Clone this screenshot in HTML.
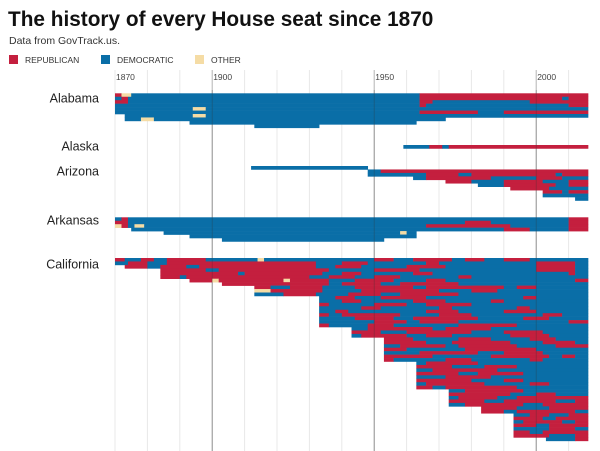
<!DOCTYPE html>
<html><head><meta charset="utf-8">
<style>
body{margin:0;background:#fff;}
svg{display:block;font-family:"Liberation Sans",Arial,sans-serif;}
</style></head>
<body>
<svg id="chart" width="600" height="451" viewBox="0 0 600 451">
  <text x="8" y="26" font-size="20.8" font-weight="bold" fill="#111">The history of every House seat since 1870</text>
  <text x="9" y="44" font-size="10.5" fill="#333">Data from GovTrack.us.</text>
  <g>
    <rect x="9" y="55" width="9" height="9" fill="#c41f3e"/>
    <text x="25" y="63" font-size="8.5" fill="#333">REPUBLICAN</text>
    <rect x="101" y="55" width="9" height="9" fill="#0a6ea7"/>
    <text x="117" y="63" font-size="8.5" fill="#333">DEMOCRATIC</text>
    <rect x="195" y="55" width="9" height="9" fill="#f5dca5"/>
    <text x="211" y="63" font-size="8.5" fill="#333">OTHER</text>
  </g>
  <g id="grid"></g>
  <g id="labels"></g>
  <g id="marks"></g>
  <g id="grid2"></g>
</svg>
<script>
const tickYears = [1870, 1900, 1950, 2000];
const gridYears = [1870,1880,1890,1900,1910,1920,1930,1940,1950,1960,1970,1980,1990,2000,2010];
const stateNames = ["Alabama","Alaska","Arizona","Arkansas","California"];
const stateTops = [93.3, 145, 166, 217.3, 258];
const alabamaSeats = [
 "1870R 1872O 1875D 1964R",
 "1870D 1872R 1874D 1964R 2008D 2010R",
 "1870R 1874D 1964R 1968D 1998R",
 "1870D 1964R 1966D 2010R",
 "1870D 1894O 1898D",
 "1870D 1964R 1982D 1990R",
 "1873D 1894O 1898D",
 "1873D 1878O 1882D|1972",
 "1893D|1963",
 "1913D|1933"
];
const alaskaSeats = ["1959D 1967R 1971D 1973R"];
const arizonaSeats = [
 "1912D|1948",
 "1948D 1952R",
 "1948D 1966R 1976D 1980R 2006D 2008R",
 "1962D 1966R 1986D 2000R 2008D",
 "1972R 1980D 1990R 2002D 2010R",
 "1982D 1990R 2006D 2010R",
 "1992R 2004D",
 "2002R 2008D 2010R",
 "2002D",
 "2012D"
];
const arkansasSeats = [
 "1870D 1872R 1874D 2010R",
 "1870R 1874D 1978R 1986D 2010R",
 "1870O 1872R 1874D 1876O 1879D 1966R 1992D 2010R",
 "1875D 1990R 1998D 2010R",
 "1885D 1958O 1960D|1963",
 "1893D|1963",
 "1903D|1953"
];
const californiaSeats = [
 "1870R 1873D 1878R 1882D 1886R 1898D 1914O 1916D 1950R 1956D 1962R 1974D 1978R 1984D 1990R 1998D",
 "1870D 1874R 1880D 1886R 1932D 1940R 1948D 1966R 1970D 2000R 2012D",
 "1873R 1880D 1884R 1892D 1896R 1932D 1938R 1946D 1960R 1972D 2000R 2012D",
 "1884R 1898D 1902R 1936D 1950R 1964D 2000R 2012D",
 "1884R 1908D 1910R 1934D 1940R 1946D 1962R 1968D 2010R 2012D",
 "1884R 1890D 1892R 1930D 1936R 1944D 1950R 1958D 1976R 1980D",
 "1893R 1900O 1902R 1922O 1924R 1936D 1944R 1956D 1966R 1972D 2012R",
 "1903R 1936D 1940R 1952D 1958R 1976D",
 "1913R 1918D 1924R 1934D 1944R 1962D 1966R 1990D 1994R 2000D",
 "1913O 1918R 1934D 1946R 1970D 1980R 1988D",
 "1913D 1922R 1932D 1942R 1952D 1958R 1976D",
 "1933D 1938R 1944D 1952R 1966D 1996R 2000D",
 "1933D 1940R 1946D 1962R 1972D 1986R 1990D",
 "1933R 1936D 1950R 1960D 1966R 1980D",
 "1933D 1946R 1952D 1970R 1974D 1994R 1998D",
 "1933D 1938R 1942D 1966R 1976D 1990R 2000D",
 "1933R 1936D 1940R 1958D 1970R 1980D 2002R 2008D",
 "1933D 1944R 1956D 1962R 1982D 1996R 2004D",
 "1933D 1950R 1960D 1964R 1976D 2010R",
 "1933R 1936D 1948R 1956D 1976R 1994D",
 "1943D 1948R 1968D 1972R 1986D",
 "1943R 1952D 1960R 1980D 1990R 2002D",
 "1943D 1946R 1960D 1966R 1974D 1992R 2004D",
 "1953R 1962D 1976R 1986D 1998R 2006D",
 "1953R 1966D 1974R 1992D 2002R 2012D",
 "1953D 1958R 1972D 1976R 1994D 2006R",
 "1953R 1960D 1978R 2000D",
 "1953D 1964R 1982D 1990R 2002D",
 "1953R 1968D 1986R 2004D 2008R 2012D",
 "1953R 1956D 1972R 1980D 1998R 2002D",
 "1963D 1966R 1982D",
 "1963R 1974D 1984R 1994D",
 "1963D 1968R 1988D",
 "1963R 1976D 1982R 1996D",
 "1963D 1972R 1986D",
 "1963R 1980D 1990R 1996D",
 "1963D 1966R 1984D 1998R 2004D",
 "1963R 1968D 1972R 1994D",
 "1973D 1978R 1996D",
 "1973R 1992D 2000R 2006D",
 "1973D 1976R 1988D 1994R",
 "1973R 1984D 1990R 2006D 2012R",
 "1973D 1978R 1996D 2002R",
 "1983R 1994D 2004R",
 "1983R 1990D 1994R 2012D",
 "1993D 1998R 2004D 2010R",
 "1993R 2002D 2006R",
 "1993D 1996R 2008D 2012R",
 "1993R 2000D 2004R",
 "1993D 2004R 2012D",
 "1993R 1998D 2002R",
 "1993R 2004D 2012R",
 "2003D 2012R"
];
const stateSeats = [alabamaSeats, alaskaSeats, arizonaSeats, arkansasSeats, californiaSeats];

const NS = "http://www.w3.org/2000/svg";
const X0 = 115, PX_PER_YEAR = 3.24, ROW_H = 3.45, END_YEAR = 2016;
const labelBaselines = [102.5, 150.5, 175.5, 224.5, 268.5];
const colors = {R:"#c41f3e", D:"#0a6ea7", O:"#f5dca5"};
function xScale(year){ return X0 + (year - 1870) * PX_PER_YEAR; }
function mk(tag, attrs){ const e=document.createElementNS(NS,tag); for(const k in attrs) e.setAttribute(k,attrs[k]); return e; }

const grid = document.getElementById('grid');
const grid2 = document.getElementById('grid2');
gridYears.forEach(y => {
  const major = tickYears.includes(y) && y !== 1870;
  const l = mk('line',{x1:xScale(y),x2:xScale(y),y1:70,y2:451,stroke:major?'#b5b5b5':'#e8e8e8','stroke-width':1});
  
  
  grid.appendChild(l);
  if (major) {
    const l2 = mk('line',{x1:xScale(y),x2:xScale(y),y1:90,y2:451,stroke:'#333','stroke-width':0.8,'stroke-opacity':0.35});
    
    
    grid2.appendChild(l2);
  }
});
tickYears.forEach(y => {
  const t = mk('text',{x:xScale(y)+1,y:80,'font-size':8.5,fill:'#444'});
  t.textContent = y;
  
  
  grid.appendChild(t);
});

const labels = document.getElementById('labels');
const marks = document.getElementById('marks');
stateNames.forEach((name, si) => {
  const top = stateTops[si];
  const t = mk('text',{x:99,y:labelBaselines[si],'font-size':12.5,fill:'#222','text-anchor':'end'});
  t.textContent = name;
  
  
  labels.appendChild(t);
  const g = mk('g',{});
  
  
  marks.appendChild(g);
  stateSeats[si].forEach((row, ri) => {
    let [segStr, endStr] = row.split('|');
    const end = endStr ? +endStr : END_YEAR;
    const segs = segStr.trim().split(/\s+/).map(s => ({y:+s.slice(0,4), p:s.slice(4)}));
    segs.forEach((s, k) => {
      const e = k+1 < segs.length ? segs[k+1].y : end;
      if (e <= s.y) return;
      const r = mk('rect',{x:xScale(s.y),y:top+ri*ROW_H,width:xScale(e)-xScale(s.y)+0.3,height:ROW_H+0.3,fill:colors[s.p]});
      
      
      g.appendChild(r);
    });
  });
});
</script>
</body></html>
